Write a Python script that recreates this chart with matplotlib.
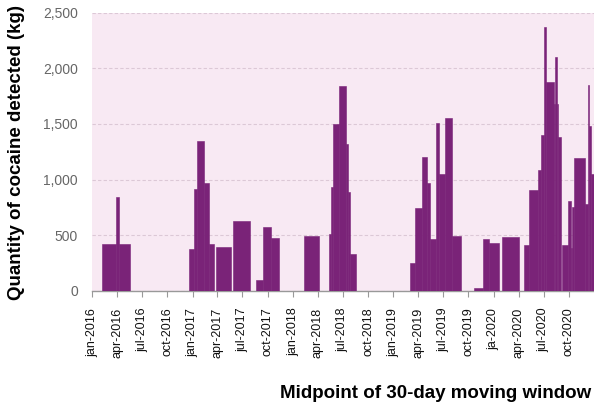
import numpy as np
import pandas as pd
import matplotlib
matplotlib.use("Agg")
import matplotlib.pyplot as plt
import matplotlib.dates as mdates

# step segments of the 30-day moving window (start, end, kg)
seg_inicio = [
    "2016-02-08", "2016-03-27", "2016-04-09",
    "2016-12-18", "2017-01-05", "2017-01-18", "2017-02-12", "2017-03-01",
    "2017-03-27", "2017-05-28",
    "2017-08-18", "2017-09-15", "2017-10-13",
    "2018-02-09",
    "2018-05-13", "2018-05-20", "2018-05-28", "2018-06-19", "2018-07-12", "2018-07-21", "2018-07-28",
    "2019-03-03", "2019-03-20", "2019-04-16", "2019-05-03", "2019-05-15", "2019-06-06",
    "2019-06-18", "2019-07-09", "2019-08-03",
    "2019-10-21", "2019-11-24", "2019-12-16",
    "2020-02-01",
    "2020-04-21", "2020-05-08", "2020-06-11", "2020-06-22", "2020-07-03", "2020-07-08",
    "2020-08-06", "2020-08-12", "2020-08-17", "2020-08-23",
    "2020-09-04", "2020-09-26", "2020-10-08", "2020-10-13", "2020-10-20",
    "2020-11-28", "2020-12-10", "2020-12-14", "2020-12-20",
]
seg_fin = [
    "2016-03-27", "2016-04-09", "2016-05-20",
    "2017-01-05", "2017-01-18", "2017-02-12", "2017-03-01", "2017-03-18",
    "2017-05-21", "2017-07-29",
    "2017-09-15", "2017-10-13", "2017-11-11",
    "2018-04-05",
    "2018-05-20", "2018-05-28", "2018-06-19", "2018-07-12", "2018-07-21", "2018-07-28", "2018-08-19",
    "2019-03-20", "2019-04-16", "2019-05-03", "2019-05-15", "2019-06-06", "2019-06-18",
    "2019-07-09", "2019-08-03", "2019-09-05",
    "2019-11-24", "2019-12-16", "2020-01-20",
    "2020-04-03",
    "2020-05-08", "2020-06-11", "2020-06-22", "2020-07-03", "2020-07-08", "2020-08-06",
    "2020-08-12", "2020-08-17", "2020-08-23", "2020-09-02",
    "2020-09-26", "2020-10-08", "2020-10-13", "2020-10-20", "2020-11-28",
    "2020-12-10", "2020-12-14", "2020-12-20", "2021-01-02",
]
cantidad_kg = [
    420, 840, 420,
    380, 920, 1345, 965, 420,
    395, 630,
    100, 575, 475,
    490,
    510, 935, 1500, 1840, 1320, 890, 335,
    250, 745, 1205, 965, 465, 1510,
    1050, 1555, 490,
    25, 465, 430,
    485,
    415, 910, 1090, 1400, 2370, 1880,
    1680, 2100, 1680, 1385,
    415, 810, 390, 750, 1190,
    785, 1850, 1480, 1050,
]

fechas_ticks = ["2016-01-01", "2016-04-01", "2016-07-01", "2016-10-01",
                "2017-01-01", "2017-04-01", "2017-07-01", "2017-10-01",
                "2018-01-01", "2018-04-01", "2018-07-01", "2018-10-01",
                "2019-01-01", "2019-04-01", "2019-07-01", "2019-10-01",
                "2020-01-01", "2020-04-01", "2020-07-01", "2020-10-01"]
etiquetas_ticks = ["jan-2016", "apr-2016", "jul-2016", "oct-2016",
                   "jan-2017", "apr-2017", "jul-2017", "oct-2017",
                   "jan-2018", "apr-2018", "jul-2018", "oct-2018",
                   "jan-2019", "apr-2019", "jul-2019", "oct-2019",
                   "ja-2020", "apr-2020", "jul-2020", "oct-2020"]
valores_y = [0, 500, 1000, 1500, 2000, 2500]

plt.rcParams['font.family'] = ['Liberation Sans', 'DejaVu Sans']

morado = '#7a2378'
fondo = '#f8e9f3'

fig = plt.figure(figsize=(5.94, 4.07), dpi=100)
ax = fig.add_axes([92 / 594, 116 / 407, 1 - 92 / 594, 278.5 / 407])
ax.set_facecolor(fondo)

inicio = mdates.date2num(pd.to_datetime(seg_inicio))
fin = mdates.date2num(pd.to_datetime(seg_fin))
ax.bar(inicio, cantidad_kg, width=fin - inicio, align='edge',
       color=morado, edgecolor=morado, linewidth=0.4, zorder=3)

ax.set_xlim(mdates.date2num(pd.Timestamp("2016-01-01")),
            mdates.date2num(pd.Timestamp("2020-12-31")))
ax.set_ylim(0, 2500)

ax.set_yticks(valores_y)
ax.set_yticklabels([f"{v:,}" for v in valores_y], color='#666666', fontsize=10)
ax.tick_params(axis='y', length=0, pad=10)
ax.yaxis.grid(True, color='#dcc8d6', linestyle=(0, (3, 2)), linewidth=0.8, zorder=1)

ax.set_xticks(mdates.date2num(pd.to_datetime(fechas_ticks)))
ax.set_xticklabels(etiquetas_ticks, rotation=90, fontsize=9, color='#111111')
ax.tick_params(axis='x', length=4, color='#999999', pad=8)

for lado in ['top', 'right', 'left']:
    ax.spines[lado].set_visible(False)
ax.spines['bottom'].set_color('#999999')
ax.spines['bottom'].set_linewidth(1.0)

fig.text(17 / 594, 1 - 152 / 407, "Quantity of cocaine detected (kg)", rotation=90,
         fontsize=13.5, fontweight='bold', ha='center', va='center')
fig.text(591 / 594, 1 - 393 / 407, "Midpoint of 30-day moving window",
         fontsize=13.5, fontweight='bold', ha='right', va='center')

fig.savefig("out.png", dpi=100)
